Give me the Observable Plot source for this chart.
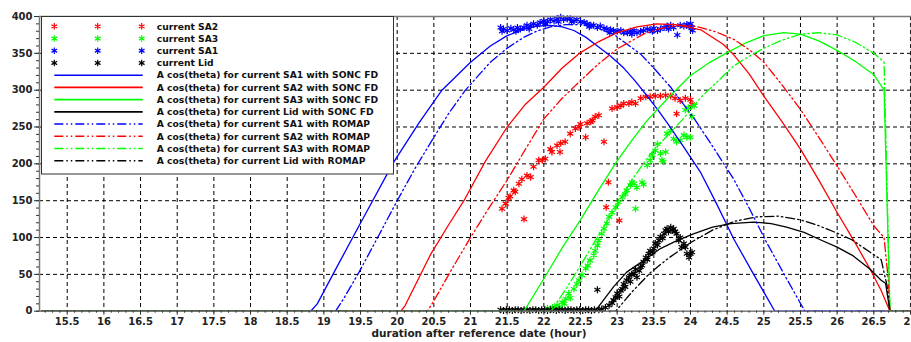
<!DOCTYPE html>
<html><head><meta charset="utf-8">
<script src="https://cdn.jsdelivr.net/npm/d3@7"></script>
<script src="https://cdn.jsdelivr.net/npm/@observablehq/plot@0.6"></script>
<style>body{margin:0;background:#fff;} svg{display:block;}</style>
</head><body><div id="chart"></div>
<script>
// ---------- tick values / labels ----------
const xTicks = [15.5,16,16.5,17,17.5,18,18.5,19,19.5,20,20.5,21,21.5,22,22.5,23,23.5,24,24.5,25,25.5,26,26.5,27];
const xTickLabels = ["15.5","16","16.5","17","17.5","18","18.5","19","19.5","20","20.5","21","21.5","22","22.5","23","23.5","24","24.5","25","25.5","26","26.5","27"];
const yTicks = [0,50,100,150,200,250,300,350,400];
const yTickLabels = ["0","50","100","150","200","250","300","350","400"];
const xLabel = "duration after reference date (hour)";

// ---------- measured currents (hour, value) ----------
const sa2Pts = [[21.43,139],[21.48,146],[21.52,154],[21.54,156],[21.59,164],[21.61,162],[21.66,173],[21.70,179],[21.73,125],[21.77,184],[21.82,182],[21.86,196],[21.93,205],[21.98,205],[22.02,207],[22.09,220],[22.11,216],[22.18,225],[22.22,216],[22.23,228],[22.29,230],[22.36,241],[22.43,248],[22.48,250],[22.50,254],[22.57,236],[22.59,255],[22.64,257],[22.66,259],[22.70,264],[22.75,266],[22.82,230],[22.85,141],[22.88,175],[22.93,275],[23.00,277],[23.03,123],[23.05,279],[23.09,282],[23.16,282],[23.20,284],[23.25,282],[23.32,289],[23.39,291],[23.45,291],[23.52,292],[23.59,292],[23.66,293],[23.73,292],[23.79,289],[23.81,268],[23.86,286],[23.93,289],[24.00,287],[24.02,281]];
const sa3Pts = [[22.05,4],[22.09,3],[22.12,5],[22.15,4],[22.18,8],[22.21,6],[22.25,12],[22.28,10],[22.30,17],[22.34,24],[22.36,18],[22.41,30],[22.45,37],[22.48,42],[22.52,49],[22.57,58],[22.60,62],[22.63,69],[22.68,76],[22.70,82],[22.73,89],[22.75,96],[22.79,105],[22.82,112],[22.86,119],[22.89,128],[22.93,134],[22.98,141],[23.02,148],[23.07,155],[23.11,159],[23.13,164],[23.18,171],[23.20,175],[23.23,173],[23.25,139],[23.27,168],[23.34,175],[23.36,172],[23.41,198],[23.45,205],[23.48,212],[23.52,218],[23.55,227],[23.59,214],[23.61,205],[23.63,203],[23.66,216],[23.68,241],[23.73,245],[23.77,234],[23.81,230],[23.86,232],[23.91,239],[23.93,273],[23.95,236],[23.97,276],[24.00,236],[24.02,264],[24.05,279]];
const sa1Pts = [[21.41,385],[21.43,380],[21.45,383],[21.50,381],[21.55,384],[21.59,382],[21.62,380],[21.64,385],[21.68,383],[21.73,385],[21.77,388],[21.80,383],[21.82,387],[21.86,390],[21.91,388],[21.95,392],[22.00,394],[22.02,390],[22.05,393],[22.09,396],[22.14,394],[22.18,397],[22.20,393],[22.23,399],[22.27,396],[22.32,397],[22.36,397],[22.38,393],[22.41,394],[22.45,396],[22.50,393],[22.55,392],[22.59,390],[22.62,386],[22.64,388],[22.68,388],[22.73,385],[22.77,387],[22.82,384],[22.86,383],[22.90,378],[22.91,382],[22.95,381],[23.00,380],[23.05,381],[23.09,378],[23.14,378],[23.18,380],[23.20,376],[23.23,381],[23.27,378],[23.32,380],[23.36,381],[23.41,383],[23.45,382],[23.48,380],[23.50,384],[23.55,381],[23.59,383],[23.64,385],[23.68,387],[23.70,383],[23.73,388],[23.77,385],[23.82,375],[23.86,388],[23.91,387],[23.95,389],[23.98,386],[24.00,390],[24.02,385],[24.03,381]];
const lidPts = [[21.41,2],[21.45,1],[21.49,2],[21.53,2],[21.57,1],[21.61,2],[21.65,2],[21.69,1],[21.73,2],[21.77,2],[21.81,1],[21.85,2],[21.89,2],[21.93,1],[21.97,2],[22.01,2],[22.05,1],[22.09,2],[22.13,2],[22.17,1],[22.21,2],[22.25,2],[22.29,1],[22.33,2],[22.37,2],[22.41,1],[22.45,2],[22.49,2],[22.53,1],[22.57,2],[22.61,2],[22.65,1],[22.69,2],[22.73,29],[22.75,2],[22.79,3],[22.84,5],[22.89,8],[22.93,11],[22.95,15],[22.98,19],[23.00,24],[23.03,20],[23.05,28],[23.07,30],[23.09,37],[23.11,33],[23.13,42],[23.16,46],[23.18,40],[23.20,50],[23.23,51],[23.25,57],[23.27,46],[23.30,55],[23.32,60],[23.34,62],[23.36,67],[23.39,73],[23.41,70],[23.43,78],[23.45,82],[23.48,80],[23.50,85],[23.52,92],[23.55,90],[23.57,96],[23.59,101],[23.62,99],[23.64,105],[23.66,110],[23.68,112],[23.70,108],[23.73,114],[23.75,110],[23.77,112],[23.79,108],[23.81,105],[23.84,96],[23.86,100],[23.88,87],[23.91,92],[23.93,87],[23.95,78],[23.98,73],[24.00,78],[24.02,80]];

// ---------- A cos(theta) model curves (hour, value) ----------
const sa1Sonc = [[15.15,0],[18.82,0],[18.91,10],[19.14,53],[19.48,116],[19.95,202],[20.3,256],[20.61,300],[21.0,338],[21.27,360],[21.5,374],[21.73,383],[21.9,387],[22.09,388],[22.25,386],[22.41,381],[22.57,372],[22.73,360],[22.9,347],[23.09,330],[23.25,312],[23.41,292],[23.55,274],[23.68,256],[23.9,224],[24.14,188],[24.35,147],[24.59,98],[24.85,52],[25.15,0],[26.98,0]];
const sa2Sonc = [[15.15,0],[20.05,0],[20.11,8],[20.45,76],[20.7,117],[20.91,150],[21.2,203],[21.5,250],[21.75,281],[22.0,304],[22.25,330],[22.5,351],[22.75,366],[23.0,378],[23.27,386],[23.54,390],[23.8,389],[24.0,385],[24.14,382],[24.45,362],[24.59,348],[24.8,322],[25.0,292],[25.25,257],[25.5,220],[25.75,178],[26.0,134],[26.25,92],[26.45,57],[26.6,28],[26.72,0],[26.98,0]];
const sa3Sonc = [[15.15,0],[21.73,0],[22.0,44],[22.25,86],[22.5,124],[22.75,165],[23.0,204],[23.2,232],[23.41,259],[23.7,290],[24.0,320],[24.25,337],[24.5,351],[24.75,364],[25.0,374],[25.27,378],[25.5,376],[25.75,367],[26.0,354],[26.25,339],[26.5,321],[26.64,300],[26.68,150],[26.72,0],[26.98,0]];
const lidSonc = [[15.15,0],[22.7,0],[22.95,33],[23.13,53],[23.35,68],[23.59,85],[23.8,95],[24.04,105],[24.3,114],[24.55,119],[24.86,121],[25.1,119],[25.31,114],[25.55,107],[25.77,97],[26.0,87],[26.22,75],[26.45,57],[26.6,42],[26.66,38],[26.72,0],[26.98,0]];
const sa1Romap = [[15.15,0],[19.16,0],[19.27,17],[19.48,53],[19.75,103],[20.0,150],[20.25,195],[20.5,236],[20.7,268],[20.93,300],[21.27,338],[21.5,357],[21.73,372],[21.9,380],[22.09,386],[22.3,389],[22.5,389],[22.7,385],[22.95,376],[23.1,365],[23.32,349],[23.5,330],[23.73,304],[24.04,263],[24.3,224],[24.59,179],[24.8,140],[25.04,93],[25.3,46],[25.56,0],[26.98,0]];
const sa2Romap = [[15.15,0],[20.41,0],[20.5,14],[20.75,58],[21.0,100],[21.25,140],[21.5,178],[21.75,220],[22.0,261],[22.25,289],[22.5,313],[22.75,336],[23.0,356],[23.36,376],[23.6,384],[23.85,388],[24.0,388],[24.14,385],[24.35,379],[24.59,369],[24.8,355],[25.0,338],[25.25,307],[25.5,274],[25.75,236],[26.0,197],[26.25,157],[26.5,116],[26.64,100],[26.7,40],[26.72,0],[26.98,0]];
const sa3Romap = [[15.15,0],[22.1,0],[22.3,30],[22.5,62],[22.75,104],[23.0,145],[23.2,178],[23.45,213],[23.7,240],[23.91,262],[24.14,290],[24.35,310],[24.59,333],[24.8,346],[25.0,357],[25.25,368],[25.5,376],[25.75,378],[26.0,375],[26.25,365],[26.5,350],[26.64,338],[26.68,170],[26.72,0],[26.98,0]];
const lidRomap = [[15.15,0],[22.98,0],[23.2,26],[23.45,52],[23.7,72],[24.0,93],[24.3,110],[24.6,122],[24.9,128],[25.2,129],[25.5,124],[25.75,116],[26.0,106],[26.2,97],[26.45,80],[26.6,70],[26.68,35],[26.72,0],[26.98,0]];

// ---------- legend labels ----------
const legendLabels = ["current SA2","current SA3","current SA1","current Lid",
  "A cos(theta) for current SA1 with SONC FD","A cos(theta) for current SA2 with SONC FD",
  "A cos(theta) for current SA3 with SONC FD","A cos(theta) for current Lid with SONC FD",
  "A cos(theta) for current SA1 with ROMAP","A cos(theta) for current SA2 with ROMAP",
  "A cos(theta) for current SA3 with ROMAP","A cos(theta) for current Lid with ROMAP"];

const BLUE="#0000ff", RED="#ff0000", GREEN="#00ff00", BLACK="#000000";
const DASHDOT = "9,3,1.5,3,1.5,3";
const pointSeries = [[sa2Pts,RED],[sa3Pts,GREEN],[sa1Pts,BLUE],[lidPts,BLACK]];
const lineSeries = [[sa1Sonc,BLUE,null],[sa2Sonc,RED,null],[sa3Sonc,GREEN,null],[lidSonc,BLACK,null],
  [sa1Romap,BLUE,DASHDOT],[sa2Romap,RED,DASHDOT],[sa3Romap,GREEN,DASHDOT],[lidRomap,BLACK,DASHDOT]];
const legendKinds = [["pt",RED],["pt",GREEN],["pt",BLUE],["pt",BLACK],
  ["ln",BLUE,null],["ln",RED,null],["ln",GREEN,null],["ln",BLACK,null],
  ["ln",BLUE,DASHDOT],["ln",RED,DASHDOT],["ln",GREEN,DASHDOT],["ln",BLACK,DASHDOT]];

const rows = arr => arr.map(([h,v]) => ({h, v}));
const xLab = new Map(xTicks.map((t,i)=>[t,xTickLabels[i]]));
const yLab = new Map(yTicks.map((t,i)=>[t,yTickLabels[i]]));
const xMinor = d3.range(152, 271, 1).map(d => d/10);
const yMinor = d3.range(0, 401, 10);

const marks = [
  Plot.ruleX(xTicks, {x: d=>d, stroke:"#000", strokeWidth:1, strokeDasharray:"4,3"}),
  Plot.ruleY(yTicks.filter(v=>v>0 && v<400), {y: d=>d, stroke:"#000", strokeWidth:1, strokeDasharray:"4,3"}),
];
for (const [d,c] of pointSeries) {
  marks.push(Plot.dot(rows(d), {x:"h", y:"v", symbol:"asterisk", r:3.3, stroke:c, strokeWidth:1.2}));
}
for (const [d,c,dash] of lineSeries) {
  const o = {x:"h", y:"v", stroke:c, strokeWidth:1.3};
  if (dash) o.strokeDasharray = dash;
  marks.push(Plot.line(rows(d), o));
}
marks.push(
  Plot.frame({stroke:"#7a7a7a", strokeWidth:1.5}),
  Plot.axisX(xMinor, {tickSize:2, tickFormat:()=>"", stroke:"#333"}),
  Plot.axisX(xTicks, {tickSize:4, tickPadding:3, tickFormat:d=>xLab.get(d), fontWeight:"bold", fontSize:10, stroke:"#333", fill:"#222"}),
  Plot.axisY(yMinor, {tickSize:3, tickFormat:()=>"", stroke:"#333"}),
  Plot.axisY(yTicks, {tickSize:5, tickPadding:2, tickFormat:d=>yLab.get(d), fontWeight:"bold", fontSize:10, stroke:"#333", fill:"#222"}),
  Plot.text([xLabel], {text:d=>d, frameAnchor:"bottom", dy:26, dx:3.5, fontWeight:"bold", fontSize:10.5, fill:"#222"})
);

const svgEl = Plot.plot({
  width: 911, height: 342,
  marginLeft: 39, marginRight: 0, marginTop: 16, marginBottom: 31.3,
  style: {fontFamily: "DejaVu Sans", background: "#fff"},
  x: {domain: [15.122, 27.014], label: null},
  y: {domain: [0, 400], label: null},
  marks
});
document.getElementById("chart").appendChild(svgEl);

// ---------- legend box (overlaid in plot area) ----------
const svg = d3.select(svgEl);
const g = svg.append("g").attr("text-anchor","start");
g.append("rect").attr("x",41.5).attr("y",16.5).attr("width",352).attr("height",157.5)
  .attr("fill","#fff").attr("stroke","#333").attr("stroke-width",1);
const sym = d3.symbol(d3.symbolAsterisk, 30)();
legendLabels.forEach((lab,i) => {
  const y = 26.3 + i*12.22;
  const k = legendKinds[i];
  if (k[0]==="pt") {
    [54.3, 97.7, 141.7].forEach(x => {
      g.append("path").attr("d",sym).attr("transform",`translate(${x},${y})`)
        .attr("fill","none").attr("stroke",k[1]).attr("stroke-width",1.2);
    });
  } else {
    const l = g.append("line").attr("x1",54.3).attr("x2",142.7).attr("y1",y).attr("y2",y)
      .attr("stroke",k[1]).attr("stroke-width",1.6);
    if (k[2]) l.attr("stroke-dasharray",k[2]);
  }
  g.append("text").attr("x",156.7).attr("y",y).attr("dy","0.35em").attr("text-anchor","start")
    .attr("font-family","DejaVu Sans").attr("font-weight","bold").attr("font-size",9.2)
    .attr("fill","#111").text(lab);
});
</script>
</body></html>
